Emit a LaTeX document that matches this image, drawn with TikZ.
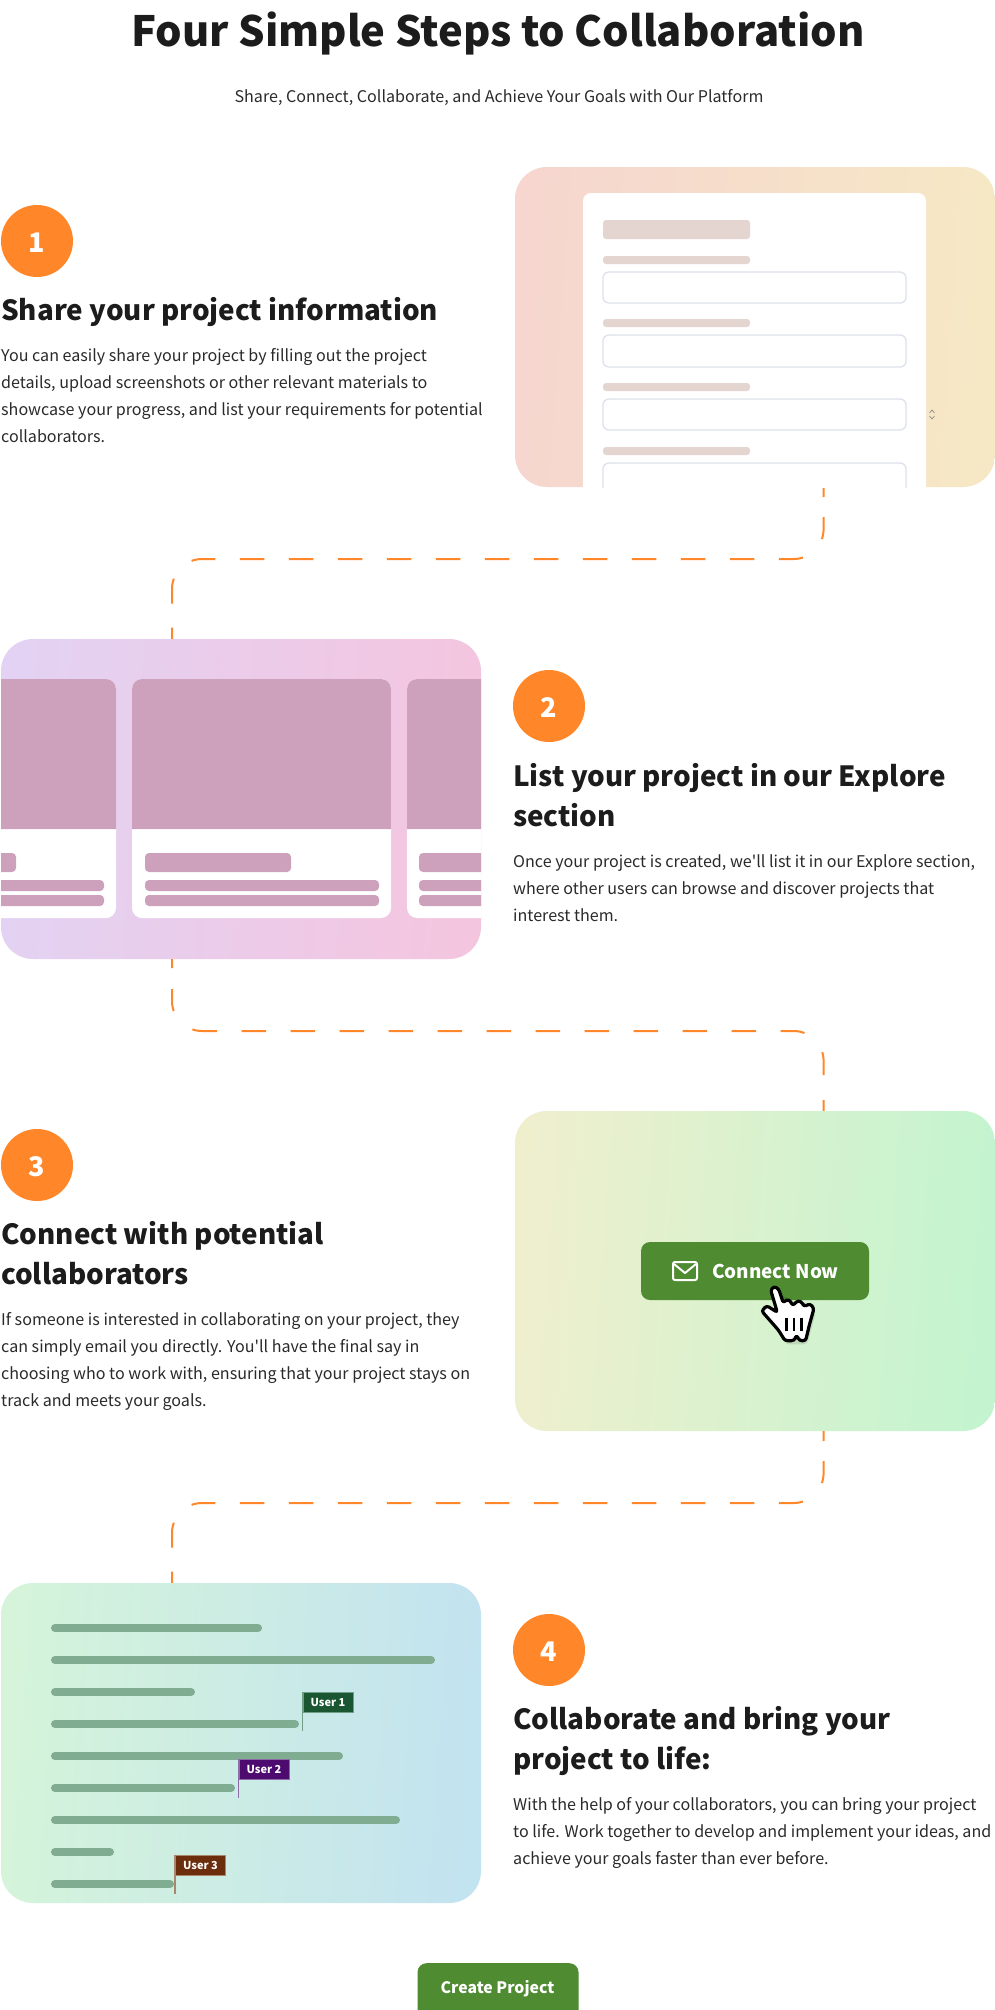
\documentclass[tikz,border=0pt]{standalone}
\usepackage{fontspec}
\setmainfont{Noto Sans CJK SC}[Ligatures=TeXOff]
\usepackage{tikz}
\usetikzlibrary{shapes,positioning,calc}
\usepackage{xcolor}
\definecolor{accent}{HTML}{FF8629}
\definecolor{ink}{HTML}{1C1C1C}
\definecolor{copyink}{HTML}{2A2A2A}
\definecolor{leaf}{HTML}{4E8B31}
\definecolor{formtone}{HTML}{E4D5D0}
\definecolor{fieldedge}{HTML}{DDE3EC}
\definecolor{cardtone}{HTML}{CDA1BC}
\definecolor{listtone}{HTML}{80AC92}
\definecolor{peachl}{HTML}{F6D6CF}
\definecolor{peachr}{HTML}{F6E8C5}
\definecolor{lilacl}{HTML}{E3D2F3}
\definecolor{lilacr}{HTML}{F4C5DF}
\definecolor{limel}{HTML}{EFEFCE}
\definecolor{limer}{HTML}{C3F4CF}
\definecolor{mintl}{HTML}{D5F4DA}
\definecolor{mintr}{HTML}{C2E3F0}
\definecolor{flagone}{HTML}{1A5632}
\definecolor{poleone}{HTML}{6E9E86}
\definecolor{flagtwo}{HTML}{4D0B6F}
\definecolor{poletwo}{HTML}{8D6AA8}
\definecolor{flagthree}{HTML}{6C2D0C}
\definecolor{polethree}{HTML}{A8876F}

\begin{document}
\begin{tikzpicture}[
    x=1pt,
    y=-1pt,
    panel/.style ={
        rounded corners=32pt,
        minimum width=480pt,
        minimum height=320pt,
        inner sep=0pt
    },
    numdot/.style ={
        circle,
        fill=accent,
        text=white,
        minimum size=72pt,
        inner sep=0pt,
        text height=22pt,
        text depth=0pt,
        font=\fontsize{27}{27}\selectfont\bfseries
    },
    headtext/.style ={
        anchor=base west,
        align=left,
        inner sep=0pt,
        text=ink,
        font=\fontsize{27.8}{40}\selectfont\bfseries
    },
    copytext/.style ={
        anchor=base west,
        align=left,
        inner sep=0pt,
        text=copyink,
        font=\fontsize{16.1}{27}\selectfont
    },
    formbar/.style ={
        fill=formtone,
        rounded corners=3pt
    },
    fieldbox/.style ={
        draw=fieldedge,
        line width=1.3pt,
        fill=white,
        rounded corners=6pt
    },
    cardbar/.style ={
        fill=cardtone,
        rounded corners=4pt
    },
    listbar/.style ={
        draw=listtone,
        line width=8pt,
        line cap=round
    },
    flagtag/.style ={
        text=white,
        minimum width=50pt,
        minimum height=20pt,
        inner sep=0pt,
        line width=1pt,
        font=\fontsize{11}{11}\selectfont\bfseries
    },
    greenbtn/.style ={
        fill=leaf,
        text=white,
        rounded corners=9pt,
        inner sep=0pt
    },
    downlink/.style ={
        draw=accent,
        line width=2pt,
        rounded corners=30pt,
        dash pattern=on 10pt off 20pt on 22pt off 27.4pt on 24.3pt off 24.4pt
            on 24.5pt off 24.5pt on 24.5pt off 24.5pt on 24.5pt off 24.5pt
            on 24.5pt off 24.5pt on 24.5pt off 24.5pt on 24.5pt off 24.5pt
            on 24.5pt off 24.5pt on 24.5pt off 24.5pt on 24.5pt off 24.5pt
            on 24.5pt off 24.5pt on 24.5pt off 24.5pt on 24pt off 26pt
            on 25pt off 24pt on 14pt off 60pt
    },
    uplink/.style ={
        draw=accent,
        line width=2pt,
        rounded corners=30pt,
        dash pattern=on 9pt off 21pt on 22pt off 27.1pt on 25pt off 24.5pt
            on 24.5pt off 24.5pt on 24.5pt off 24.5pt on 24.5pt off 24.5pt
            on 24.5pt off 24.5pt on 24.5pt off 24.5pt on 24.5pt off 24.5pt
            on 24.5pt off 24.5pt on 24.5pt off 24.5pt on 24.5pt off 24.5pt
            on 24.5pt off 24.5pt on 24.5pt off 24.5pt on 24pt off 27pt
            on 23pt off 25pt on 14pt off 60pt
    }
    ]
    \useasboundingbox (0,0) rectangle (995,2010);
    \fill[white] (0,0) rectangle (995,2010);

    \coordinate (railright) at (823.6,0);
    \coordinate (railleft) at (172,0);
    \coordinate (laneone) at (0,559);
    \coordinate (lanetwo) at (0,1031);
    \coordinate (lanethree) at (0,1503);

    \node[panel, left color=peachl, right color=peachr, shading angle=86] (panelone) at (755,327) {};
    \node[panel, left color=lilacl, right color=lilacr, shading angle=86] (paneltwo) at (241,799) {};
    \node[panel, left color=limel, right color=limer, shading angle=86] (panelthree) at (755,1271) {};
    \node[panel, left color=mintl, right color=mintr, shading angle=86] (panelfour) at (241,1743) {};

    \draw[downlink] (railright |- panelone.south) -- (railright |- laneone) -- (railleft |- laneone) -- (railleft |- paneltwo.north);
    \draw[uplink] (railleft |- paneltwo.south) -- (railleft |- lanetwo) -- (railright |- lanetwo) -- (railright |- panelthree.north);
    \draw[downlink] (railright |- panelthree.south) -- (railright |- lanethree) -- (railleft |- lanethree) -- (railleft |- panelfour.north);

    \node[anchor=base, text=ink, inner sep=0pt, font=\fontsize{41.7}{48}\selectfont\bfseries] (title) at (498,47) {Four Simple Steps to Collaboration};
    \node[anchor=base, text=copyink, inner sep=0pt, font=\fontsize{16.1}{18}\selectfont] (subtitle) at (499,102) {Share, Connect, Collaborate, and Achieve Your Goals with Our Platform};

    \node[numdot] (numone) at (37,241) {1};
    \node[headtext] (headone) at (1,320) {Share your project information};
    \node[copytext] (copyone) at (1,442) {You can easily share your project by filling out the project\\details, upload screenshots or other relevant materials to\\showcase your progress, and list your requirements for potential\\collaborators.};

    \begin{scope}
        \clip (515,167) rectangle (995,487);
        \fill[white, rounded corners=8pt] (583,193) rectangle (926,520);
        \fill[formbar] (603,220) rectangle (750,239);
        \fill[formbar] (603,256) rectangle (750,264);
        \draw[fieldbox] (603,272) rectangle (906,303);
        \fill[formbar] (603,319) rectangle (750,327);
        \draw[fieldbox] (603,335) rectangle (906,367);
        \fill[formbar] (603,383) rectangle (750,391);
        \draw[fieldbox] (603,399) rectangle (906,430);
        \fill[formbar] (603,447) rectangle (750,455);
        \draw[fieldbox] (603,463) rectangle (906,510);
    \end{scope}
    \draw[gray, line width=0.6pt] (929.5,413) -- (932,410) -- (934.5,413);
    \draw[gray, line width=0.6pt] (929.5,416) -- (932,419) -- (934.5,416);

    \begin{scope}
        \clip (1,639) rectangle (481,959);
        \fill[white, rounded corners=10pt] (-150,679) rectangle (116,918);
        \fill[white, rounded corners=10pt] (132,679) rectangle (391,918);
        \fill[white, rounded corners=10pt] (407,679) rectangle (650,918);
        \fill[cardtone] (-150,829) [rounded corners=10pt] -- (-150,679) -- (116,679) [sharp corners] -- (116,829) -- cycle;
        \fill[cardtone] (132,829) [rounded corners=10pt] -- (132,679) -- (391,679) [sharp corners] -- (391,829) -- cycle;
        \fill[cardtone] (407,829) [rounded corners=10pt] -- (407,679) -- (650,679) [sharp corners] -- (650,829) -- cycle;
        \fill[cardbar] (-150,853) rectangle (16,872);
        \fill[cardbar] (-150,880) rectangle (104,891);
        \fill[cardbar] (-150,895) rectangle (104,906);
        \fill[cardbar] (145,853) rectangle (291,872);
        \fill[cardbar] (145,880) rectangle (379,891);
        \fill[cardbar] (145,895) rectangle (379,906);
        \fill[cardbar] (419,853) rectangle (650,872);
        \fill[cardbar] (419,880) rectangle (650,891);
        \fill[cardbar] (419,895) rectangle (650,906);
    \end{scope}

    \node[numdot] (numtwo) at (549,706) {2};
    \node[headtext] (headtwo) at (513,826) {List your project in our Explore\\section};
    \node[copytext] (copytwo) at (513,921) {Once your project is created, we'll list it in our Explore section,\\where other users can browse and discover projects that\\interest them.};

    \node[numdot] (numthree) at (37,1165) {3};
    \node[headtext] (headthree) at (1,1284) {Connect with potential\\collaborators};
    \node[copytext] (copythree) at (1,1406) {If someone is interested in collaborating on your project, they\\can simply email you directly. You'll have the final say in\\choosing who to work with, ensuring that your project stays on\\track and meets your goals.};

    \node[greenbtn, minimum width=228pt, minimum height=58pt] (connectbtn) at (755,1271) {};
    \node[anchor=base west, text=white, inner sep=0pt, font=\fontsize{18.9}{21}\selectfont\bfseries] (connectlabel) at (712,1278) {Connect Now};
    \draw[white, line width=2pt, rounded corners=2pt] (673,1262) rectangle (697,1280);
    \draw[white, line width=2pt, line join=round] (674,1264) -- (685,1273) -- (696,1264);

    \begin{scope}[shift={(750,1275)}, x=0.3333pt, y=-0.3333pt]
        \fill[black, opacity=0.1, rounded corners=4pt] (70,50) -- (105,208) -- (172,208) -- (198,110) -- cycle;
        \draw[black, fill=white, line width=3.2pt, rounded corners=2.5pt, line join=round]
            (62,45) -- (72,34) -- (86,42) -- (100,84) -- (110,73) -- (122,78) -- (127,92) -- (145,76) -- (158,84) -- (162,95) -- (180,86) -- (192,100)
            -- (178,150) -- (167,197) -- (148,197) -- (140,180) -- (132,197) -- (105,197) -- (85,165) -- (35,108) -- (50,92) -- (82,112) -- cycle;
        \draw[black, line width=2.8pt] (110,128) -- (110,168);
        \draw[black, line width=2.8pt] (132,128) -- (132,168);
        \draw[black, line width=2.8pt] (155,128) -- (155,168);
    \end{scope}

    \draw[listbar] (55,1628) -- (258,1628);
    \draw[listbar] (55,1660) -- (431,1660);
    \draw[listbar] (55,1692) -- (191,1692);
    \draw[listbar] (55,1724) -- (295,1724);
    \draw[listbar] (55,1756) -- (339,1756);
    \draw[listbar] (55,1788) -- (231,1788);
    \draw[listbar] (55,1820) -- (396,1820);
    \draw[listbar] (55,1852) -- (110,1852);
    \draw[listbar] (55,1884) -- (170,1884);

    \node[flagtag, fill=flagone, draw=poleone] (userone) at (328,1702) {User 1};
    \draw[poleone, line width=1.2pt] (userone.north west) -- ++(0,39);
    \node[flagtag, fill=flagtwo, draw=poletwo] (usertwo) at (264,1769) {User 2};
    \draw[poletwo, line width=1.2pt] (usertwo.north west) -- ++(0,39);
    \node[flagtag, fill=flagthree, draw=polethree] (userthree) at (200.5,1865) {User 3};
    \draw[polethree, line width=1.2pt] (userthree.north west) -- ++(0,39);

    \node[numdot] (numfour) at (549,1650) {4};
    \node[headtext] (headfour) at (513,1769) {Collaborate and bring your\\project to life:};
    \node[copytext] (copyfour) at (513,1864) {With the help of your collaborators, you can bring your project\\to life. Work together to develop and implement your ideas, and\\achieve your goals faster than ever before.};

    \node[greenbtn, minimum width=161pt, minimum height=60pt, anchor=north] (createbtn) at (498,1963) {};
    \node[anchor=base, text=white, inner sep=0pt, font=\fontsize{15.8}{18}\selectfont\bfseries] (createlabel) at (497.5,1993) {Create Project};
\end{tikzpicture}
\end{document}
